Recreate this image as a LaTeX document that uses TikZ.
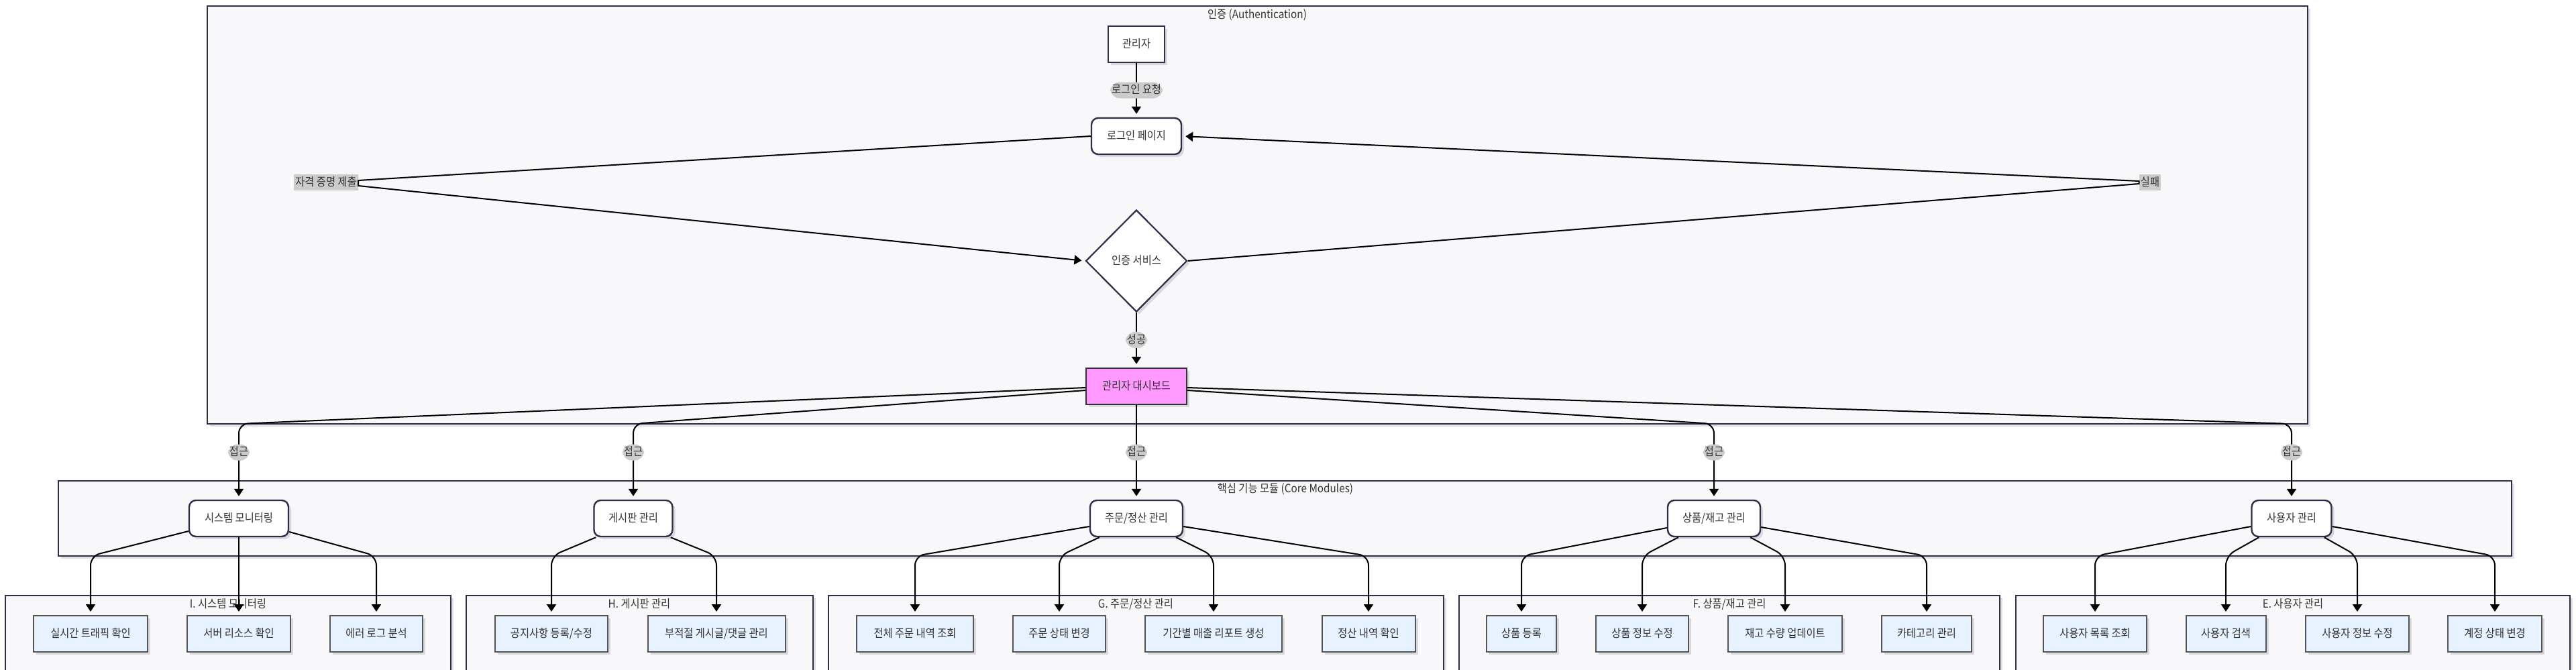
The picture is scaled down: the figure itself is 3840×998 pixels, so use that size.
\documentclass[tikz,border=0pt]{standalone}
\usepackage{fontspec}
\setmainfont{Noto Sans CJK KR}[FakeStretch=0.9]
\usetikzlibrary{shapes.geometric,arrows.meta,calc,shadows,backgrounds}
\definecolor{sgfill}{HTML}{F8F8FA}
\definecolor{sgline}{HTML}{2E2E48}
\definecolor{nline}{HTML}{2E2E48}
\definecolor{txt}{HTML}{333333}
\definecolor{lblbg}{HTML}{CCCCCC}
\definecolor{leaffill}{HTML}{E6F2FF}
\definecolor{leafline}{HTML}{555555}
\definecolor{dashfill}{HTML}{FF99FF}
\tikzset{
  base/.style={font=\fontsize{8.5pt}{10pt}\selectfont, text=txt, inner sep=0pt, align=center, text height=6.8pt, text depth=1.6pt},
  shad/.style={drop shadow={fill=black,opacity=0.12,shadow xshift=2pt,shadow yshift=-2pt}},
  actor/.style={base, draw=nline, line width=1.2pt, fill=white, minimum height=27pt, shad},
  rbox/.style={actor, rounded corners=5pt},
  decision/.style={base, diamond, draw=nline, line width=1.1pt, fill=white, minimum width=75.5pt, minimum height=76pt, shad},
  dashnode/.style={actor, fill=dashfill, draw=black!80},
  leaf/.style={base, draw=leafline, line width=1pt, fill=leaffill, minimum height=27pt, shad},
  elabel/.style={base, fill=lblbg, inner xsep=1pt, inner ysep=1.8pt},
  sg/.style={draw=sgline, line width=1.2pt, fill=sgfill, shad},
  sgtitle/.style={base},
  edge/.style={draw=black, line width=1pt, -{Triangle[length=5.5pt,width=7pt]}, shorten >=2.5pt, rounded corners=7pt},
}
\begin{document}
\begin{tikzpicture}[x=0.5pt,y=-0.5pt]
\useasboundingbox (0,0) rectangle (3840,998);
% ---------- subgraph frames ----------
\begin{scope}[on background layer]
  \fill[white] (0,0) rectangle (3840,998);
  \draw[sg] (309,9) rectangle (3440,632);
  \node[sgtitle] (tauth) at (1874,22) {인증 (Authentication)};
  \draw[sg] (87,717) rectangle (3744,829);
  \node[sgtitle] (tcore) at (1916,729) {핵심 기능 모듈 (Core Modules)};
  \begin{scope}
    \clip (0,0) rectangle (3840,998);
    \draw[sg] (8,888) rectangle (672,1100);
    \draw[sg] (695,888) rectangle (1212,1100);
    \draw[sg] (1235,888) rectangle (2152,1100);
    \draw[sg] (2175,888) rectangle (2981,1100);
    \draw[sg] (3005,888) rectangle (3831,1100);
  \end{scope}
  \node[sgtitle] (ti) at (340,901) {I. 시스템 모니터링};
  \node[sgtitle] (th) at (953,901) {H. 게시판 관리};
  \node[sgtitle] (tg) at (1693,901) {G. 주문/정산 관리};
  \node[sgtitle] (tf) at (2578,901) {F. 상품/재고 관리};
  \node[sgtitle] (te) at (3418,901) {E. 사용자 관리};
\end{scope}
\coordinate (cA) at (0,632);
\coordinate (cB) at (0,829);
% ---------- auth nodes ----------
\node[actor, minimum width=42pt] (admin) at (1694,66) {관리자};
\node[rbox, minimum width=67pt] (login) at (1694,203) {로그인 페이지};
\node[decision] (authsvc) at (1694,389) {인증 서비스};
\node[dashnode, minimum width=75pt] (dashb) at (1694,576) {관리자 대시보드};
\node[elabel] (cred) at (486,272) {자격 증명 제출};
\node[elabel] (fail) at (3205,272) {실패};
% ---------- modules ----------
\node[rbox, minimum width=74pt] (sys) at (356,773) {시스템 모니터링};
\node[rbox, minimum width=58.5pt] (board) at (944,773) {게시판 관리};
\node[rbox, minimum width=69pt] (order) at (1694,773) {주문/정산 관리};
\node[rbox, minimum width=69pt] (prod) at (2555,773) {상품/재고 관리};
\node[rbox, minimum width=59.5pt] (user) at (3416,773) {사용자 관리};
% ---------- leaves ----------
\node[leaf, minimum width=85pt] (l1) at (135,945) {실시간 트래픽 확인};
\node[leaf, minimum width=77pt] (l2) at (356,945) {서버 리소스 확인};
\node[leaf, minimum width=69pt] (l3) at (561,945) {에러 로그 분석};
\node[leaf, minimum width=84pt] (h1) at (822,945) {공지사항 등록/수정};
\node[leaf, minimum width=102.5pt] (h2) at (1068,945) {부적절 게시글/댓글 관리};
\node[leaf, minimum width=87pt] (g1) at (1364,945) {전체 주문 내역 조회};
\node[leaf, minimum width=69pt] (g2) at (1579,945) {주문 상태 변경};
\node[leaf, minimum width=102pt] (g3) at (1809,945) {기간별 매출 리포트 생성};
\node[leaf, minimum width=69.5pt] (g4) at (2040,945) {정산 내역 확인};
\node[leaf, minimum width=52pt] (f1) at (2268,945) {상품 등록};
\node[leaf, minimum width=69pt] (f2) at (2448,945) {상품 정보 수정};
\node[leaf, minimum width=85pt] (f3) at (2661,945) {재고 수량 업데이트};
\node[leaf, minimum width=67pt] (f4) at (2872,945) {카테고리 관리};
\node[leaf, minimum width=77pt] (e1) at (3123,945) {사용자 목록 조회};
\node[leaf, minimum width=59.5pt] (e2) at (3318,945) {사용자 검색};
\node[leaf, minimum width=77pt] (e3) at (3514,945) {사용자 정보 수정};
\node[leaf, minimum width=70pt] (e4) at (3719,945) {계정 상태 변경};
% ---------- auth edges ----------
\draw[edge] (admin) -- node[elabel] {로그인 요청} (login);
\draw[edge, sharp corners] (login.west) -- ([yshift=1.5pt]cred.east) -- ([yshift=-2.5pt]cred.east) -- (authsvc.west);
\draw[edge, sharp corners] (authsvc.east) -- ([yshift=-1pt]fail.west) -- ([yshift=1pt]fail.west) -- (login.east);
\draw[edge] (authsvc) -- node[elabel] {성공} (dashb);
% ---------- dashboard to modules ----------
\draw[edge] ($(dashb.west)+(0,2)$) -- (sys |- cA) -- node[elabel, pos=0.377] {접근} (sys.north);
\draw[edge] ($(dashb.west)+(0,6)$) -- (board |- cA) -- node[elabel, pos=0.377] {접근} (board.north);
\draw[edge] (dashb) -- node[elabel] {접근} (order);
\draw[edge] ($(dashb.east)+(0,6)$) -- (prod |- cA) -- node[elabel, pos=0.377] {접근} (prod.north);
\draw[edge] ($(dashb.east)+(0,2)$) -- (user |- cA) -- node[elabel, pos=0.377] {접근} (user.north);
% ---------- modules to leaves ----------
\draw[edge] ($(sys.west)+(0,19)$) -- (l1 |- cB) -- (l1.north);
\draw[edge] (sys) -- (l2);
\draw[edge] ($(sys.east)+(0,20)$) -- (l3 |- cB) -- (l3.north);
\draw[edge] ($(board.south west)+(4,0)$) -- (h1 |- cB) -- (h1.north);
\draw[edge] ($(board.south east)+(-4,0)$) -- (h2 |- cB) -- (h2.north);
\draw[edge] ($(order.west)+(0,12)$) -- (g1 |- cB) -- (g1.north);
\draw[edge] ($(order.south west)+(15,0)$) -- (g2 |- cB) -- (g2.north);
\draw[edge] ($(order.south east)+(-11,0)$) -- (g3 |- cB) -- (g3.north);
\draw[edge] ($(order.east)+(0,12)$) -- (g4 |- cB) -- (g4.north);
\draw[edge] ($(prod.west)+(0,14)$) -- (f1 |- cB) -- (f1.north);
\draw[edge] ($(prod.south west)+(17,0)$) -- (f2 |- cB) -- (f2.north);
\draw[edge] ($(prod.south east)+(-16,0)$) -- (f3 |- cB) -- (f3.north);
\draw[edge] ($(prod.east)+(0,13)$) -- (f4 |- cB) -- (f4.north);
\draw[edge] ($(user.west)+(0,12)$) -- (e1 |- cB) -- (e1.north);
\draw[edge] ($(user.south west)+(12,0)$) -- (e2 |- cB) -- (e2.north);
\draw[edge] ($(user.south east)+(-12,0)$) -- (e3 |- cB) -- (e3.north);
\draw[edge] ($(user.east)+(0,12)$) -- (e4 |- cB) -- (e4.north);
\end{tikzpicture}
\end{document}
